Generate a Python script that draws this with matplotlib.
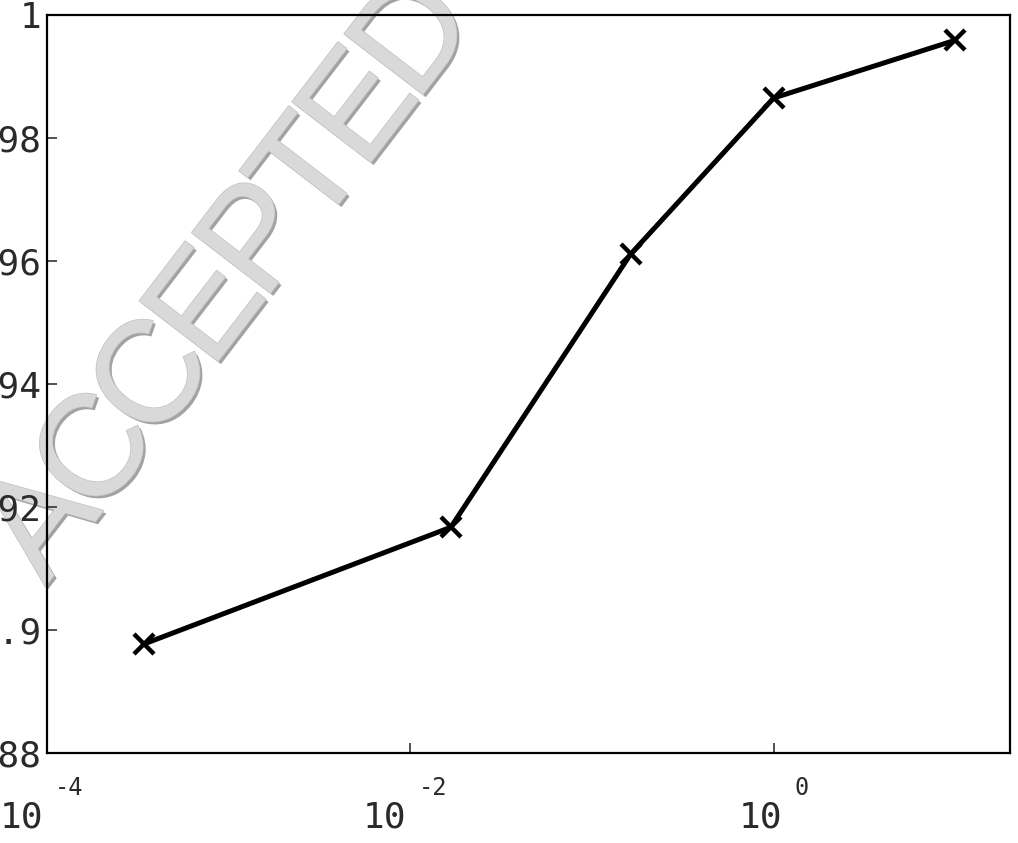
import matplotlib
matplotlib.use('Agg')
import numpy as np
import matplotlib.pyplot as plt
import matplotlib.patheffects as pe
import matplotlib.transforms as mtransforms

# accuracy vs. parameter (log scale)
param = [3.4e-4, 0.0167, 0.163, 1.0, 10.0]
accuracy = [0.8977, 0.9167, 0.9611, 0.9865, 0.9959]

yticks = [0.88, 0.9, 0.92, 0.94, 0.96, 0.98, 1.0]
ytick_labels = ['0.88', '0.9', '0.92', '0.94', '0.96', '0.98', '1']
xticks = [1e-4, 1e-2, 1e0]
xtick_exps = ['-4', '-2', '0']

mono = 'DejaVu Sans Mono'
txtcol = '#2a2a2a'
W, H = 1018, 843

fig = plt.figure(figsize=(W / 100, H / 100), dpi=100)
ax = fig.add_axes([47/W, 1 - 753/H, (1010-47)/W, (753-15)/H])
ax.patch.set_alpha(0)

ax.plot(param, accuracy, color='black', lw=3.6, marker='x', ms=15, mew=3.2, zorder=3)

ax.set_xscale('log')
ax.set_xlim(1e-4, 20)
ax.set_ylim(0.88, 1.0)
ax.minorticks_off()

ax.set_yticks(yticks)
ax.set_yticklabels(ytick_labels, fontfamily=mono, fontsize=26)
ax.set_xticks(xticks)
ax.set_xticklabels([])
ax.tick_params(direction='in', length=7.5, width=1.2, color='#333333', pad=4)
ax.tick_params(axis='y', labelcolor=txtcol)
for s in ax.spines.values():
    s.set_linewidth(1.6)

# matlab-style 10^n labels: base and exponent as separate texts
trans = mtransforms.blended_transform_factory(ax.transData, fig.transFigure)
for xt, e in zip(xticks, xtick_exps):
    shift = -3 if len(e) == 2 else 6
    off = mtransforms.ScaledTranslation(shift / 72, 0, fig.dpi_scale_trans)
    ax.text(xt, 1 - 818/H, '10', transform=trans + off, ha='right', va='center',
            fontfamily=mono, fontsize=26, color=txtcol, clip_on=False)
    ax.text(xt, 1 - 788/H, e, transform=trans + off + mtransforms.ScaledTranslation(9/72, 0, fig.dpi_scale_trans),
            ha='left', va='center', fontfamily=mono, fontsize=17,
            color=txtcol, clip_on=False)

# watermark stamp, laid out letter by letter (tight tracking), behind the axes
stamp = 'ACCEPTED'
adv = {'A': .667, 'C': .722, 'E': .667, 'P': .667, 'T': .611, 'D': .722}
ang = 52.5
u = np.array([np.cos(np.radians(ang)), np.sin(np.radians(ang))])   # along the text
up = np.array([-u[1], u[0]])
step = 129.0                       # px per em of advance
glyph_pt = 104
cap = 0.716 * glyph_pt * 100 / 72  # cap height in px
ref = np.array([88.0, H - 446.0])  # centre of the first C, display px
cum = np.cumsum([adv[c] for c in stamp]) - np.array([adv[c] for c in stamp]) / 2
for ch, s in zip(stamp, cum):
    p = ref + (s - cum[1]) * step * u - cap / 2 * up
    fig.text(p[0], p[1], ch, transform=mtransforms.IdentityTransform(),
             rotation=ang, rotation_mode='anchor', ha='center', va='baseline',
             fontsize=glyph_pt, family='Liberation Sans', color='#d9d9d9', zorder=-1,
             path_effects=[pe.withSimplePatchShadow(offset=(2, -2), shadow_rgbFace='#a2a2a2', alpha=1.0),
                           pe.Stroke(linewidth=1, foreground='#c2c2c2'), pe.Normal()])

fig.savefig('out.png', dpi=100)
